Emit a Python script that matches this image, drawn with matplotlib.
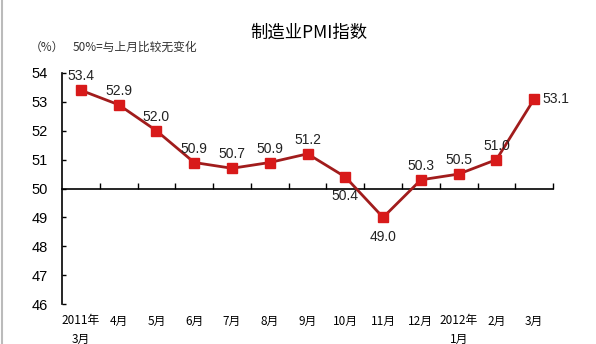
import matplotlib
matplotlib.use('Agg')
import matplotlib.pyplot as plt
import matplotlib.transforms as mtransforms
from matplotlib.lines import Line2D

plt.rcParams['font.family'] = ['Liberation Sans', 'Noto Sans CJK SC', 'DejaVu Sans']

# 制造业PMI 月度数据
months = ['2011年\n3月', '4月', '5月', '6月', '7月', '8月', '9月',
          '10月', '11月', '12月', '2012年\n1月', '2月', '3月']
pmi = [53.4, 52.9, 52.0, 50.9, 50.7, 50.9, 51.2, 50.4, 49.0, 50.3, 50.5, 51.0, 53.1]
# 数值标签位置: 上方/下方/右侧
label_pos = ['up', 'up', 'up', 'up', 'up', 'up', 'up', 'down', 'down', 'up', 'up', 'up', 'right']
y_ticks = [46, 47, 48, 49, 50, 51, 52, 53, 54]

fig = plt.figure(figsize=(5.96, 3.44), dpi=100)
ax = fig.add_axes([0.104, 0.116, 0.824, 0.672])

x = list(range(len(pmi)))
ax.plot(x, pmi, color='#A11C1C', linewidth=2, zorder=3)
ax.plot(x, pmi, linestyle='none', marker='s', markersize=6.5,
        color='#D81A1A', markeredgecolor='#D81A1A', zorder=4)

for i, v in enumerate(pmi):
    pos = label_pos[i]
    if pos == 'up':
        off, ha = (0, 10), 'center'
    elif pos == 'down':
        off, ha = (0, -14), 'center'
    else:
        off, ha = (6, 0), 'left'
    ax.annotate(f'{v:.1f}', (i, v), xytext=off, textcoords='offset points',
                ha=ha, va='center', fontsize=10, color='#222222')

ax.set_xlim(-0.5, len(pmi) - 0.5)
ax.set_ylim(46, 54)
ax.set_yticks(y_ticks)
ax.tick_params(axis='y', direction='in', length=3, width=1, pad=10,
               labelsize=10.5, colors='black')

# 横轴放在50处, 刻度在类别之间
ax.spines['bottom'].set_position(('data', 50))
ax.spines['top'].set_visible(False)
ax.spines['right'].set_visible(False)
ax.spines['left'].set_linewidth(1.2)
ax.spines['bottom'].set_linewidth(1.2)
ax.set_xticks([i + 0.5 for i in range(len(pmi))])
ax.set_xticklabels([])
ax.tick_params(axis='x', direction='in', length=4, width=1)

trans = mtransforms.blended_transform_factory(ax.transData, ax.transAxes)
for i, m in enumerate(months):
    ax.text(i, -0.045, m, transform=trans, ha='center', va='top',
            fontsize=8.5, family=['Noto Sans CJK SC', 'DejaVu Sans'],
            linespacing=1.5)

fig.text(0.518, 0.905, '制造业PMI指数', ha='center', va='center',
         fontsize=12.5, family=['Noto Sans CJK SC', 'DejaVu Sans'])
fig.text(0.05, 0.863, '（%）', ha='left', va='center', fontsize=8.5,
         family=['Noto Sans CJK SC', 'DejaVu Sans'], color='#333333')
fig.text(0.122, 0.863, '50%=与上月比较无变化', ha='left', va='center', fontsize=8.5,
         family=['Noto Sans CJK SC', 'DejaVu Sans'], color='#333333')

# 左侧边框
fig.add_artist(Line2D([0.003, 0.003], [0, 1], transform=fig.transFigure,
                      color='#BBBBBB', linewidth=1.5))

fig.savefig('out.png', dpi=100)
